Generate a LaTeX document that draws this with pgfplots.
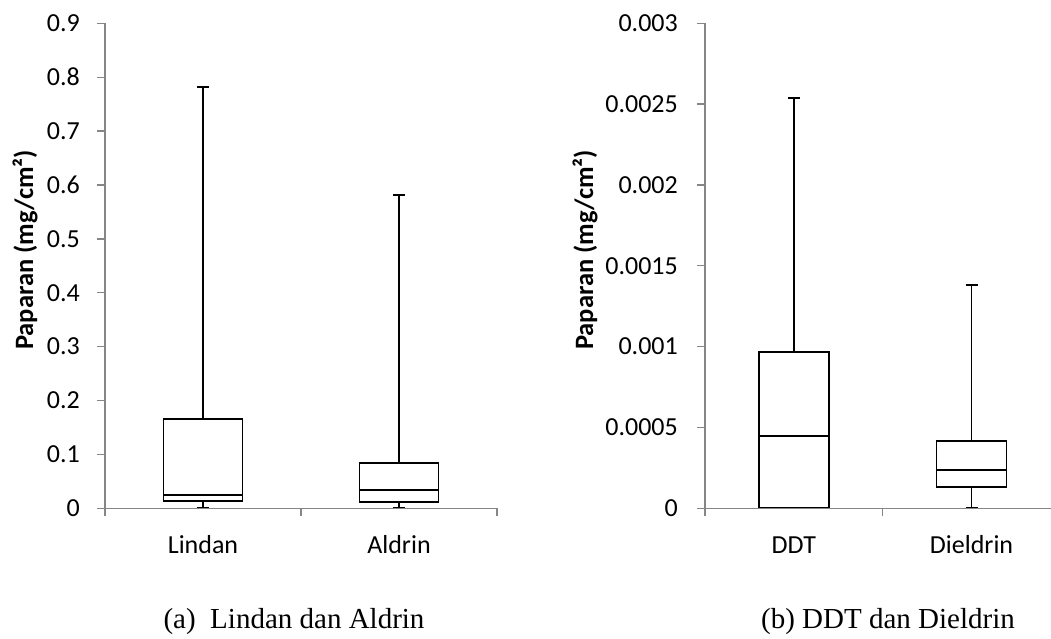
\documentclass[border=0pt]{standalone}
\usepackage{fontspec}
\setmainfont{Carlito}
\newfontfamily\timesfont{Liberation Serif}
\usepackage{pgfplots}
\pgfplotsset{compat=1.18}
\usepgfplotslibrary{statistics}
\definecolor{axgray}{HTML}{868686}
\pgfplotsset{
  mybox/.style={
    scale only axis,
    height=485pt,
    anchor=south west,
    axis on top=true,
    axis x line*=bottom, axis y line*=left,
    axis line style={axgray, line width=1.3pt},
    tick style={axgray, line width=1.3pt},
    tick align=outside,
    major tick length=8pt,
    minor tick length=8pt,
    xmin=-0.5,
    xtick={0,1},
    major x tick style={draw=none},
    minor xtick={-0.5,0.5,1.5},
    scaled y ticks=false,
    boxplot/draw direction=y,
    every tick label/.append style={font=\fontsize{26}{30}\selectfont},
    yticklabel style={inner sep=0pt, xshift=-17pt},
    xticklabel style={inner sep=0pt, yshift=-19pt, text height=18pt},
    every axis y label/.style={at={(axis description cs:-0.204,0.533)}, rotate=90, anchor=center, font=\bfseries\fontsize{26.5}{30}\selectfont},
    ylabel={Paparan (mg/cm²)},
  },
  bx/.style={black, line width=1.8pt, solid},
}
\begin{document}
\begin{tikzpicture}
\path[use as bounding box] (0pt,0pt) rectangle (1051pt,639pt);
\begin{axis}[mybox,
  at={(105pt,130.7pt)}, width=392pt,
  xmax=1.5,
  xticklabels={Lindan,Aldrin},
  ymin=0, ymax=0.9,
  ytick={0,0.1,0.2,0.3,0.4,0.5,0.6,0.7,0.8,0.9},
  yticklabels={0,0.1,0.2,0.3,0.4,0.5,0.6,0.7,0.8,0.9},
]
\addplot[bx, boxplot prepared={draw position=0, lower whisker=0.001, lower quartile=0.0135, median=0.0245, upper quartile=0.166, upper whisker=0.782, box extend=0.403, whisker extend=0.06}] coordinates {};
\addplot[bx, boxplot prepared={draw position=1, lower whisker=0.001, lower quartile=0.011, median=0.034, upper quartile=0.0846, upper whisker=0.582, box extend=0.403, whisker extend=0.06}] coordinates {};
\end{axis}
% right panel: values in units of 0.0001 mg/cm2
\begin{axis}[mybox,
  at={(705pt,130.7pt)}, width=346pt,
  xmax=1.447,
  xticklabels={DDT,Dieldrin},
  ymin=0, ymax=30,
  ytick={0,5,10,15,20,25,30},
  yticklabels={0,0.0005,0.001,0.0015,0.002,0.0025,0.003},
  yticklabel style={xshift=-2pt},
  every axis y label/.style={at={(axis description cs:-0.347,0.533)}, rotate=90, anchor=center, font=\bfseries\fontsize{26.5}{30}\selectfont},
]
\addplot[bx, boxplot prepared={draw position=0, lower whisker=0, lower quartile=0.02, median=4.49, upper quartile=9.65, upper whisker=25.4, box extend=0.394, whisker extend=0.068}] coordinates {};
\addplot[bx, boxplot prepared={draw position=1, lower whisker=0, lower quartile=1.34, median=2.39, upper quartile=4.16, upper whisker=13.8, box extend=0.394, whisker extend=0.068}] coordinates {};
\end{axis}
\node[font=\timesfont\fontsize{29}{34}\selectfont] at (294pt,17pt) {(a)\ \ Lindan dan Aldrin};
\node[font=\timesfont\fontsize{29}{34}\selectfont] at (888pt,17pt) {(b) DDT dan Dieldrin};
\end{tikzpicture}
\end{document}
